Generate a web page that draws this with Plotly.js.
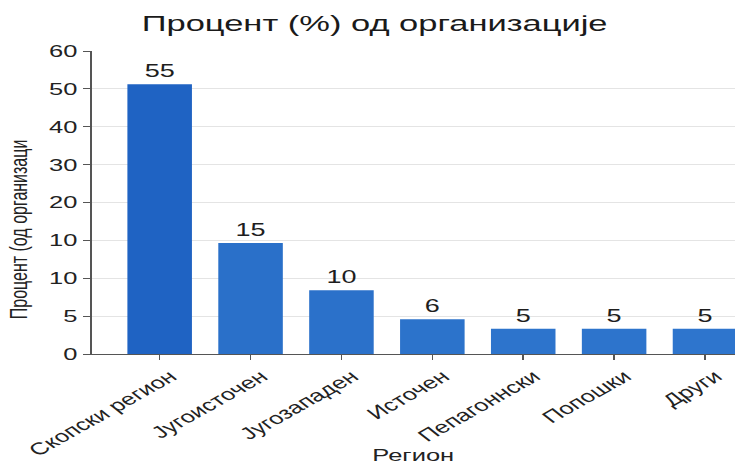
<!DOCTYPE html>
<html>
<head>
<meta charset="utf-8">
<script src="https://cdn.plot.ly/plotly-3.0.1.min.js"></script>
<style>
  html, body { margin: 0; padding: 0; background: #fff; overflow: hidden; }
  #wrap { width: 735px; height: 465px; overflow: hidden; position: relative; }
  #chart { width: 490px; height: 465px; transform: scale(1.5, 1); transform-origin: 0 0; }
</style>
</head>
<body>
<div id="wrap"><div id="chart"></div></div>
<script>
// Data
const categories = ["Скопски регион", "Југоисточен", "Југозападен", "Источен", "Пепагоннски", "Попошки", "Други"];
// bar heights as drawn against the evenly spaced 0–60 grid
const barHeights = [53.4, 22.0, 12.6, 6.9, 5.0, 5.0, 5.0];
// numbers printed above the bars
const barLabels = ["55", "15", "10", "6", "5", "5", "5"];
// y tick labels as printed (bottom to top), evenly spaced
const yTickText = ["0", "5", "10", "10", "20", "30", "40", "50", "60"];
const barColors = ["#1f63c3", "#2a70c9", "#2b71ca", "#2c73cb", "#2d74cc", "#2d74cc", "#2e75cd"];

const yMax = 60;
const yTickVals = yTickText.map((_, i) => i * yMax / (yTickText.length - 1));
const FONT = '"Liberation Sans", Arial, sans-serif';

const trace = {
  type: 'bar',
  x: categories,
  y: barHeights,
  text: barLabels,
  textposition: 'outside',
  textfont: { family: FONT, size: 18, color: '#1e1e1e' },
  cliponaxis: false,
  marker: { color: barColors, line: { width: 0 } },
  hoverinfo: 'none'
};

const layout = {
  width: 490, height: 465,
  margin: { l: 61, r: 0, t: 51, b: 111 },
  paper_bgcolor: '#ffffff', plot_bgcolor: '#ffffff',
  showlegend: false,
  bargap: 0.29,
  title: {
    text: 'Процент (%) од организације',
    font: { family: FONT, size: 23, color: '#1a1a1a' },
    x: 0.44, xanchor: 'center', xref: 'paper',
    y: 0.951, yanchor: 'middle', yref: 'container'
  },
  xaxis: {
    type: 'category',
    range: [-0.75, 6.33],
    showgrid: false, zeroline: false,
    showline: true, linecolor: '#555', linewidth: 1,
    ticks: 'outside', ticklen: 5, tickcolor: '#555',
    tickangle: -40,
    ticklabelshift: 7,
    tickfont: { family: FONT, size: 17, color: '#222' },
    title: { text: 'Регион', font: { family: FONT, size: 17, color: '#222' }, standoff: 2 },
    automargin: false
  },
  yaxis: {
    range: [0, yMax],
    tickvals: yTickVals, ticktext: yTickText,
    showgrid: true, gridcolor: '#e4e4e4', gridwidth: 1,
    zeroline: false,
    showline: true, linecolor: '#555', linewidth: 1,
    ticks: 'outside', ticklen: 5, tickcolor: '#555',
    tickfont: { family: FONT, size: 17, color: '#222' },
    automargin: false
  },
  annotations: [{
    text: 'Процент (од организаци',
    textangle: -90,
    xref: 'paper', yref: 'paper',
    x: -0.113, y: 0.41, xanchor: 'center', yanchor: 'middle',
    showarrow: false,
    font: { family: FONT, size: 16, color: '#222' }
  }]
};

Plotly.newPlot('chart', [trace], layout, { staticPlot: true, displayModeBar: false });
</script>
</body>
</html>
